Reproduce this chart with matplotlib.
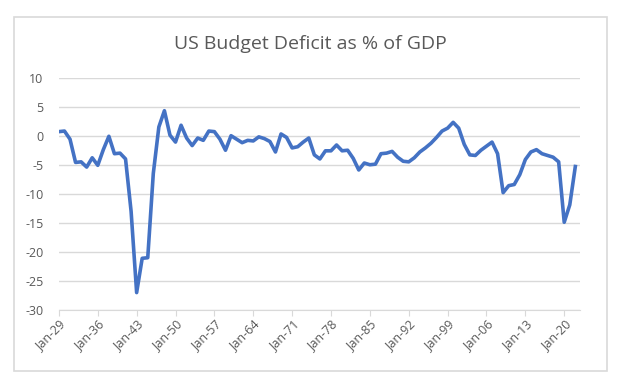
import matplotlib.pyplot as plt
from matplotlib.patches import Rectangle

years = list(range(1929, 2023))
deficit = [
    0.7, 0.8, -0.6, -4.6, -4.5, -5.4, -3.8, -5.1, -2.4, -0.1,   # 1929-1938
    -3.1, -3.0, -4.0, -13.0, -27.0, -21.1, -21.0, -6.5, 1.5, 4.3,  # 1939-1948
    0.1, -1.1, 1.8, -0.4, -1.7, -0.4, -0.8, 0.8, 0.7, -0.6,   # 1949-1958
    -2.5, 0.0, -0.6, -1.2, -0.8, -0.9, -0.2, -0.5, -1.0, -2.8,  # 1959-1968
    0.3, -0.3, -2.1, -1.9, -1.1, -0.4, -3.3, -4.0, -2.6, -2.6,  # 1969-1978
    -1.6, -2.6, -2.5, -3.9, -5.9, -4.7, -5.0, -4.9, -3.1, -3.0,  # 1979-1988
    -2.7, -3.7, -4.4, -4.5, -3.8, -2.8, -2.1, -1.3, -0.3, 0.8,  # 1989-1998
    1.3, 2.3, 1.3, -1.5, -3.3, -3.4, -2.5, -1.8, -1.1, -3.1,   # 1999-2008
    -9.8, -8.6, -8.4, -6.7, -4.1, -2.8, -2.4, -3.1, -3.4, -3.7,  # 2009-2018
    -4.5, -14.9, -11.9, -5.3,                                   # 2019-2022
]
tick_years = list(range(1929, 2021, 7))
tick_labels = [f"Jan-{y % 100:02d}" for y in tick_years]
y_ticks = list(range(-30, 11, 5))

TEXT = '#595959'
GRID = '#d9d9d9'

plt.rcParams['font.family'] = ['Open Sans', 'DejaVu Sans']

fig = plt.figure(figsize=(6.2, 3.88), dpi=100)
fig.patch.set_facecolor('white')
fig.patches.append(Rectangle((14 / 620, 1 - 371 / 388), 593 / 620, 354 / 388,
                             transform=fig.transFigure, fill=False,
                             edgecolor=GRID, lw=1.2))

ax = fig.add_axes([0.095, 0.201, 0.841, 0.599])
ax.plot(years, deficit, color='#4472C4', lw=2.6, solid_joinstyle='round')

ax.set_xlim(1929, 2022.9)
ax.set_ylim(-30, 10)
ax.set_yticks(y_ticks)
ax.set_yticklabels([str(v) for v in y_ticks])
ax.set_xticks(tick_years)
ax.set_xticklabels(tick_labels, rotation=45, ha='right', rotation_mode='anchor')

ax.yaxis.grid(True, color=GRID, lw=1.0)
ax.set_axisbelow(True)
for side in ['top', 'right', 'left']:
    ax.spines[side].set_visible(False)
ax.spines['bottom'].set_color(GRID)
ax.tick_params(axis='y', length=0, labelcolor=TEXT, labelsize=9, pad=11)
ax.tick_params(axis='x', length=4, color=GRID, labelcolor=TEXT, labelsize=9, pad=2)

fig.text(0.5, 1 - 44 / 388, 'US Budget Deficit as % of GDP', ha='center', va='center',
         fontsize=14, color=TEXT)

fig.savefig('out.png', dpi=100)
